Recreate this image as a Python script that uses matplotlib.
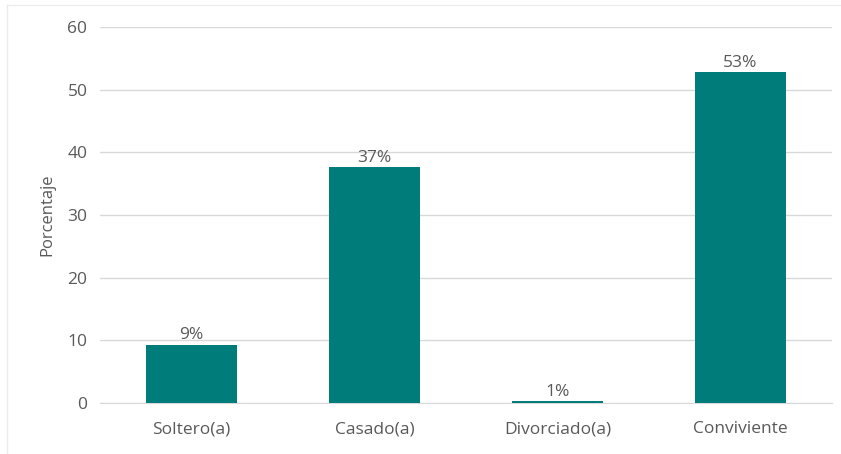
import matplotlib.pyplot as plt
from matplotlib.lines import Line2D

categories = ["Soltero(a)", "Casado(a)", "Divorciado(a)", "Conviviente"]
values = [9.3, 37.6, 0.3, 52.8]
labels = ["9%", "37%", "1%", "53%"]

bar_color = "#007C7A"
text_color = "#595959"
grid_color = "#D9D9D9"

plt.rcParams["font.family"] = ["Open Sans", "DejaVu Sans"]

fig = plt.figure(figsize=(8.41, 4.54), dpi=100)
ax = fig.add_axes([100 / 841, 1 - 403 / 454, 732 / 841, 376 / 454])

x = range(len(categories))
bars = ax.bar(x, values, width=0.5, color=bar_color, zorder=3)
for b, lab in zip(bars, labels):
    ax.text(b.get_x() + b.get_width() / 2, b.get_height() + 0.2, lab,
            ha="center", va="bottom", fontsize=12.5, color=text_color)

ax.set_xlim(-0.5, 3.5)
ax.set_ylim(0, 60)
ax.set_yticks(range(0, 61, 10))
ax.set_xticks(list(x))
ax.set_xticklabels(categories)
ax.grid(axis="y", color=grid_color, linewidth=1, zorder=0)
for s in ["top", "right", "left"]:
    ax.spines[s].set_visible(False)
ax.spines["bottom"].set_color(grid_color)
ax.tick_params(axis="both", length=0, labelsize=12.5, labelcolor=text_color)
ax.tick_params(axis="x", pad=13)
ax.tick_params(axis="y", pad=9)
ax.set_ylabel("Porcentaje", fontsize=12, color=text_color, labelpad=9)

# light frame around the chart (left and top edges)
fig.add_artist(Line2D([7 / 841, 7 / 841], [0, 1 - 5 / 454], color="#EBEBEB", lw=1,
                      transform=fig.transFigure))
fig.add_artist(Line2D([7 / 841, 1], [1 - 5 / 454, 1 - 5 / 454], color="#EBEBEB", lw=1,
                      transform=fig.transFigure))

fig.savefig("out.png", dpi=100)
